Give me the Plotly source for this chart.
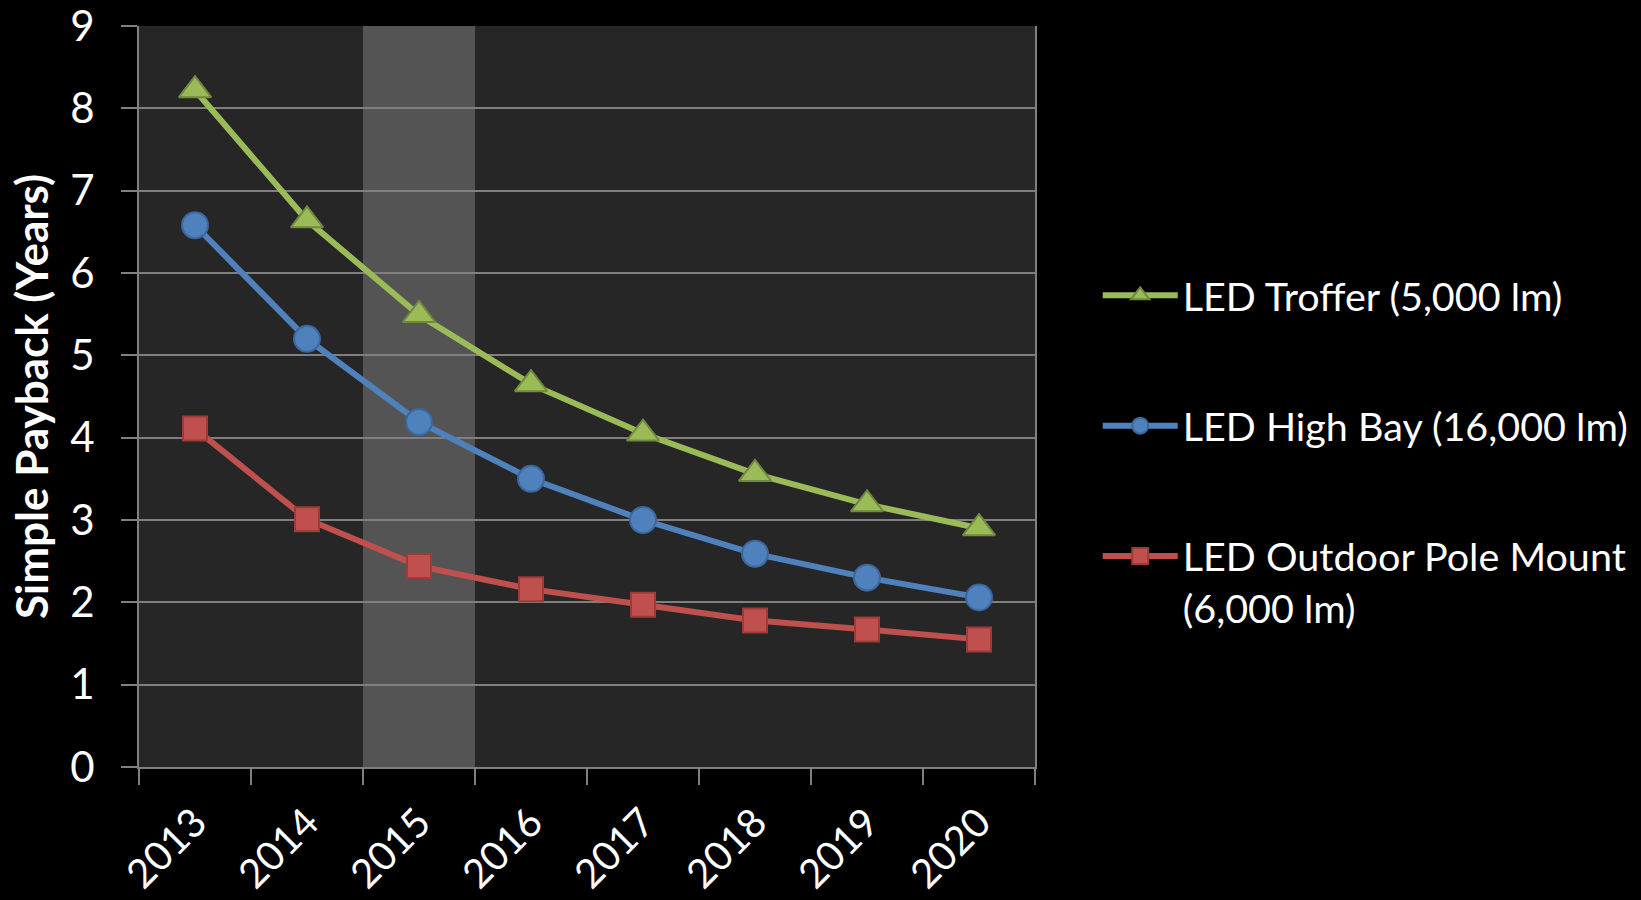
import plotly.graph_objects as go

years = ["2013", "2014", "2015", "2016", "2017", "2018", "2019", "2020"]
troffer = [8.22, 6.64, 5.49, 4.65, 4.05, 3.56, 3.19, 2.90]
high_bay = [6.58, 5.20, 4.19, 3.50, 3.00, 2.59, 2.30, 2.06]
outdoor = [4.11, 3.01, 2.44, 2.16, 1.97, 1.78, 1.67, 1.55]
highlight_year = "2015"

names = ["LED Troffer (5,000 lm)", "LED High Bay (16,000 lm)",
         "LED Outdoor Pole Mount<br>(6,000 lm)"]
FONT = "Lato, Calibri, sans-serif"

fig = go.Figure()
series = [
    (troffer, names[0], "#9BBB59", "#71893F", "triangle-up", 28),
    (high_bay, names[1], "#4F81BD", "#3A679C", "circle", 26),
    (outdoor, names[2], "#C0504D", "#9C3B38", "square", 24),
]
for i, (vals, nm, col, edge, sym, sz) in enumerate(series):
    fig.add_trace(go.Scatter(
        x=years, y=vals, name=nm, mode="lines+markers",
        line=dict(color=col, width=6),
        marker=dict(symbol=sym, size=sz, color=col, line=dict(color=edge, width=2)),
        legendgroup=str(i),
    ))

idx = years.index(highlight_year)
fig.add_shape(type="rect", xref="x", yref="y", x0=idx - 0.5, x1=idx + 0.5,
              y0=0, y1=9, fillcolor="#545454", line_width=0, layer="below")

fig.update_layout(
    width=1641, height=900,
    paper_bgcolor="black", plot_bgcolor="#262626",
    margin=dict(l=139, r=606, t=26, b=133, autoexpand=False),
    font=dict(family=FONT, color="white", size=40),
    showlegend=True,
    legend=dict(x=1.07, y=0.68, xanchor="left", yanchor="top",
                font=dict(size=39.5, color="white", family=FONT),
                tracegroupgap=76, valign="top", itemwidth=75,
                bgcolor="rgba(0,0,0,0)"),
    xaxis=dict(type="category", tickson="boundaries", showgrid=False,
               range=[-0.5, len(years) - 0.5], automargin=False,
               showline=True, linecolor="#808080", linewidth=2,
               ticks="outside", ticklen=16, tickcolor="#808080", tickwidth=2,
               ticklabeloverflow="allow", ticklabelstandoff=14,
               tickangle=-45, tickfont=dict(size=40, family=FONT, color="white")),
    yaxis=dict(range=[0, 9], dtick=1, showgrid=True, gridcolor="#7f7f7f", gridwidth=2,
               showline=True, mirror=True, linecolor="#808080", linewidth=2,
               ticks="outside", ticklen=16, tickcolor="#808080", tickwidth=2,
               zeroline=False, ticklabelstandoff=18, automargin=False,
               ticklabeloverflow="allow",
               tickfont=dict(size=42, family=FONT, color="white"),
               title=dict(text="<b>Simple Payback (Years)</b>", standoff=8,
                          font=dict(size=44, family=FONT, color="white"))),
)

fig.write_html("out.html")
